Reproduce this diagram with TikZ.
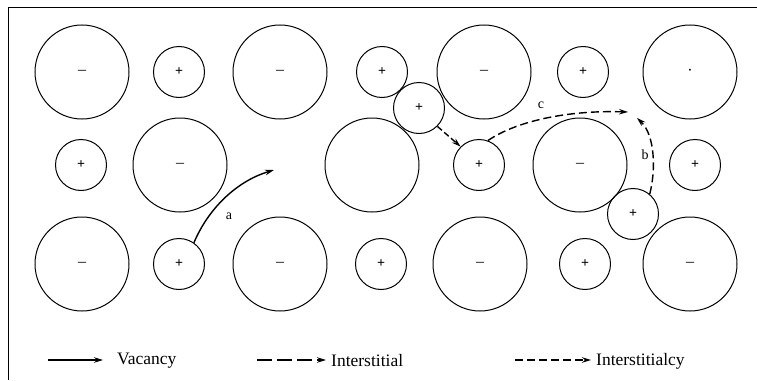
\documentclass[tikz,border=0pt]{standalone}
\usepackage{fontspec}
\setmainfont{Liberation Serif}
\usetikzlibrary{arrows.meta,calc}
\tikzset{
  anion/.style={
    circle,
    draw=black,
    line width=1pt,
    minimum size=94pt,
    inner sep=0pt,
    font=\fontsize{16}{16}\selectfont
  },
  cation/.style={
    circle,
    draw=black,
    line width=1pt,
    minimum size=51pt,
    inner sep=0pt,
    font=\bfseries\fontsize{14}{14}\selectfont
  },
  vac/.style={line width=1.4pt, -{Stealth[length=9pt,width=5.5pt]}},
  inter/.style={vac, dash pattern=on 15pt off 5pt},
  intcy/.style={vac, dash pattern=on 8pt off 4pt},
  lbl/.style={font=\fontsize{14}{16}\selectfont, inner sep=0pt},
  legtxt/.style={font=\fontsize{17.5}{20}\selectfont, inner sep=0pt, anchor=west},
}
\newcommand{\IonRowPref}[3]{%
  \foreach \x/\t/\s [count=\i] in {#3} {
    \node[\t] (#1\i) at (\x,#2) {\s};
  }
}

\begin{document}
\begin{tikzpicture}[x=1pt,y=-1pt]
  \useasboundingbox (0,0) rectangle (757,380);
  % frame
  \draw[line width=1pt] (8,380) -- (8,7) -- (757,7);
  % lattice rows
  \IonRowPref{R1}{72}{82/anion/–,179/cation/+,280/anion/–,382/cation/+,484/anion/–,583/cation/+,690/anion/·}
  \IonRowPref{R2}{165}{81/cation/+,180/anion/–,372/anion/{},479/cation/+,580/anion/–,695/cation/+}
  \IonRowPref{R3}{264}{82/anion/–,179/cation/+,280/anion/–,381/cation/+,480/anion/–,585/cation/+,690/anion/–}
  % interstitial ions
  \node[cation] (I1) at (419,108) {+};
  \node[cation] (I2) at (633,214) {+};
  % a: vacancy jump
  \coordinate (Va) at (274,170);
  \draw[vac] (R32.55) .. controls (210,205) and (240,180) .. (Va);
  \node[lbl] (La) at (229,216) {a};
  % interstitial jump
  \draw[inter, dash pattern=on 6pt off 3pt] (I1.-45) -- (R24.135);
  % c and b: interstitialcy
  \coordinate (Vc) at (628,112);
  \draw[intcy] (R24.70) .. controls (515,122) and (565,110) .. (Vc);
  \node[lbl] (Lc) at (541,105) {c};
  \coordinate (Vb) at (637,118);
  \draw[intcy] (I2.50) .. controls (656,170) and (655,135) .. (Vb);
  \node[lbl] (Lb) at (645,155) {b};
  % legend
  \node[legtxt] (LVac) at (117,361) {Vacancy};
  \coordinate (LVs) at (48,360);
  \draw[vac, shorten >=14pt] (LVs) -- (LVac.west |- LVs);
  \node[legtxt] (LInt) at (331,361) {Interstitial};
  \coordinate (LIs) at (257,360);
  \draw[inter, shorten >=5pt] (LIs) -- (LInt.west |- LIs);
  \node[legtxt] (LIcy) at (596,361) {Interstitialcy};
  \coordinate (LCs) at (515,360);
  \draw[intcy, shorten >=5pt] (LCs) -- (LIcy.west |- LCs);
\end{tikzpicture}
\end{document}
